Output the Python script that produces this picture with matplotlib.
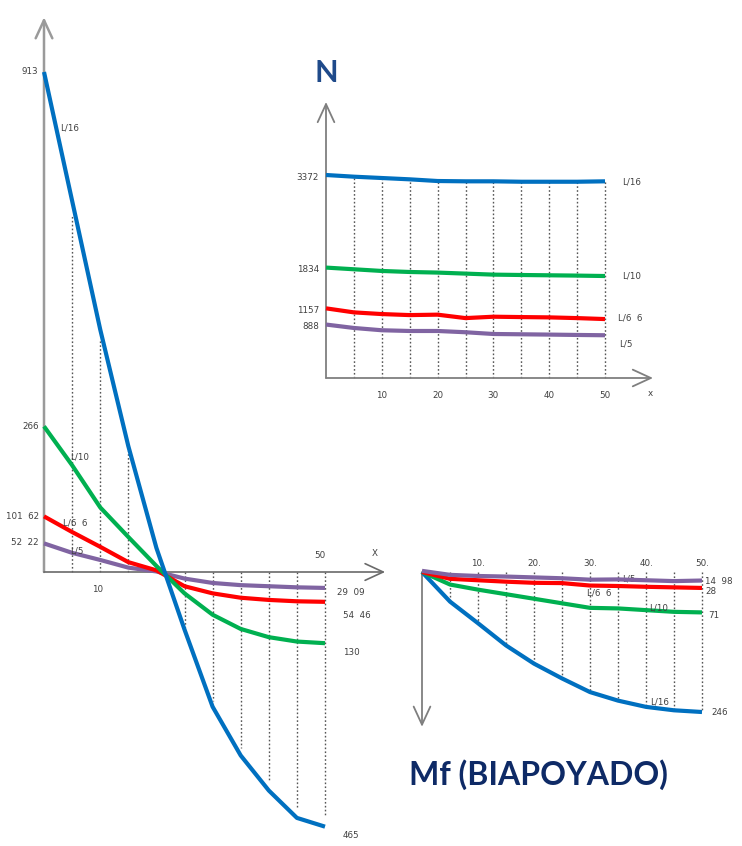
import matplotlib
matplotlib.use("Agg")
import matplotlib.pyplot as plt

W, H = 742, 846

# ---------------- data ----------------
x = [0, 5, 10, 15, 20, 25, 30, 35, 40, 45, 50]

# Left: Mf (cantilever-like) diagram
mf_L16 = [913, 678, 443, 230, 44, -105, -246, -335, -399, -449, -465]
mf_L10 = [266, 195, 118, 64, 11, -39, -78, -104, -119, -127, -130]
mf_L66 = [101.62, 73, 46, 18, 3, -26, -39, -47, -51, -53.5, -54.46]
mf_L5 = [52.22, 35, 22, 8, 1, -12, -20, -24, -26, -28, -29.09]

# Top right: N diagram
n_L16 = [3372, 3344, 3322, 3300, 3272, 3267, 3267, 3260, 3260, 3260, 3267]
n_L10 = [1834, 1806, 1778, 1761, 1751, 1734, 1717, 1711, 1706, 1701, 1694]
n_L66 = [1157, 1090, 1062, 1045, 1052, 995, 1018, 1012, 1007, 995, 979]
n_L5 = [888, 831, 793, 781, 781, 760, 731, 726, 721, 715, 710]

# Bottom right: Mf (biapoyado)
b_L16 = [0, 52, 90, 129, 161, 187, 211, 226, 237, 243, 246]
b_L10 = [0, 22, 31, 39, 47, 55, 63, 64, 67, 70, 71]
b_L66 = [0, 12, 14.5, 17, 19, 19.5, 23.8, 24.6, 26, 27, 28]
b_L5 = [-2, 5, 7, 8, 9.5, 11, 13.5, 13, 14.5, 16, 14.98]

n_ticks = [10, 20, 30, 40, 50]
b_ticks = [10, 20, 30, 40, 50]

BLUE, GREEN, RED, PURPLE = "#0070C0", "#00B050", "#FF0000", "#8064A2"
AX = "#7f7f7f"
TXT = "#404040"
DOT = "#555555"

fig = plt.figure(figsize=(W / 100, H / 100), dpi=100)
fig.patch.set_facecolor("white")


def place(ax, box, xmap, ymap):
    L, T, R, B = box
    px0, xv0, px1, xv1 = xmap
    sx = (px1 - px0) / (xv1 - xv0)
    ax.set_xlim(xv0 + (L - px0) / sx, xv0 + (R - px0) / sx)
    py0, yv0, py1, yv1 = ymap
    sy = (py1 - py0) / (yv1 - yv0)
    ax.set_ylim(yv0 + (B - py0) / sy, yv0 + (T - py0) / sy)
    ax.set_position([L / W, 1 - B / H, (R - L) / W, (B - T) / H])
    ax.axis("off")


def arrow(ax, start, tip, lw=1.3, color=AX):
    ax.annotate("", xy=tip, xytext=start,
                arrowprops=dict(arrowstyle="->,head_length=1.3,head_width=0.6",
                                lw=lw, color=color, shrinkA=0, shrinkB=0))


def lab(ax, s, xy, dx=0, dy=0, ha="left", va="center", size=6.3, color=TXT, z=5):
    ax.annotate(s, xy=xy, xytext=(dx, dy), textcoords="offset pixels",
                ha=ha, va=va, fontsize=size, color=color, zorder=z,
                family="DejaVu Sans")


# ================= LEFT =================
axL = fig.add_axes([0, 0, 1, 1])
place(axL, (0, 0, 420, 846), (44, 0, 325, 50), (572, 0, 72, 913))
arrow(axL, (0, 0), (0, 1013), lw=1.8, color="#9a9a9a")
arrow(axL, (0, 0), (60.7, 0), lw=1.2, color="#6a6a6a")
for xi, yi in zip(x, mf_L16):
    if xi in (5, 10, 15) or xi >= 25:
        axL.plot([xi, xi], [0, yi * 0.96], ls=(0, (1.2, 1.6)), lw=1.0, color=DOT, zorder=1)
for ys, c in ((mf_L5, PURPLE), (mf_L66, RED), (mf_L10, GREEN), (mf_L16, BLUE)):
    axL.plot(x, ys, color=c, lw=3.0, solid_capstyle="butt", solid_joinstyle="round", zorder=3)
lab(axL, "913", (0, 913), dx=-6, ha="right")
lab(axL, "266", (0, 266), dx=-5, ha="right")
lab(axL, "101  62", (0, 101.62), dx=-5, ha="right")
lab(axL, "52  22", (0, 52.22), dx=-5, ha="right", dy=1)
lab(axL, "L/16", (2.85, 810))
lab(axL, "L/10", (4.6, 210))
lab(axL, "L/6  6", (3.4, 89))
lab(axL, "L/5", (4.6, 38))
lab(axL, "10", (9.6, 0), dy=-18, ha="center")
lab(axL, "50", (49.1, 0), dy=16, ha="center")
lab(axL, "X", (58.9, 0), dy=19, ha="center")
lab(axL, "29  09", (50, -29.09), dx=12, dy=-5)
lab(axL, "54  46", (50, -54.46), dx=18, dy=-14)
lab(axL, "130", (50, -130), dx=18, dy=-9)
lab(axL, "465", (50, -465), dx=18, dy=-9)

# ================= TOP RIGHT (N) =================
axN = fig.add_axes([0, 0, 1, 1])
place(axN, (270, 40, 742, 420), (326, 0, 605, 50), (378, 0, 175, 3372))
arrow(axN, (0, 0), (0, 4585), lw=1.3)
arrow(axN, (0, 0), (58.6, 0), lw=1.3)
for xi, yi in zip(x[1:], n_L16[1:]):
    axN.plot([xi, xi], [0, yi], ls=(0, (1.2, 1.6)), lw=1.0, color=DOT, zorder=1)
for ys, c in ((n_L5, PURPLE), (n_L66, RED), (n_L10, GREEN), (n_L16, BLUE)):
    axN.plot(x, ys, color=c, lw=3.0, solid_capstyle="butt", solid_joinstyle="round", zorder=3)
for v in (n_L16[0], n_L10[0], n_L66[0], n_L5[0]):
    lab(axN, str(v), (0, v), dx=-7, ha="right", dy=-2)
lab(axN, "L/16", (50, n_L16[-1]), dx=17, dy=-1)
lab(axN, "L/10", (50, n_L10[-1]), dx=17, dy=0)
lab(axN, "L/6  6", (50, n_L66[-1]), dx=13, dy=1)
lab(axN, "L/5", (50, n_L5[-1]), dx=14, dy=-9)
for t in n_ticks:
    lab(axN, str(t), (t, 0), dy=-17, ha="center")
lab(axN, "x", (58.2, 0), dy=-15, ha="center")
axN.annotate("N", xy=(0, 4585), xytext=(0, 29), textcoords="offset pixels",
             ha="center", va="center", fontsize=22, fontweight="bold",
             color="#1F4A8A", family="Lato")

# ================= BOTTOM RIGHT (Mf biapoyado) =================
axB = fig.add_axes([0, 0, 1, 1])
place(axB, (390, 540, 742, 846), (422, 0, 702, 50), (572, 0, 712, 246))
arrow(axB, (0, 0), (0, 272), lw=1.3)
arrow(axB, (0, 0), (58.6, 0), lw=1.3)
for xi, yi in zip(x[1:], b_L16[1:]):
    axB.plot([xi, xi], [0, yi], ls=(0, (1.2, 1.6)), lw=1.0, color=DOT, zorder=1)
lab(axB, "L/5", (37, 11.5), ha="center", z=2)
for ys, c in ((b_L16, BLUE), (b_L10, GREEN), (b_L66, RED), (b_L5, PURPLE)):
    axB.plot(x, ys, color=c, lw=3.0, solid_capstyle="butt", solid_joinstyle="round", zorder=3)
for t in b_ticks:
    lab(axB, f"{t}.", (t, 0), dy=8, ha="center")
lab(axB, "14  98", (50, b_L5[-1]), dx=3, dy=-1)
lab(axB, "28", (50, b_L66[-1]), dx=3, dy=-4)
lab(axB, "71", (50, b_L10[-1]), dx=6, dy=-3)
lab(axB, "246", (50, b_L16[-1]), dx=9, dy=0)
lab(axB, "L/6  6", (29.4, 37), ha="left")
lab(axB, "L/10", (40.6, 64), ha="left")
lab(axB, "L/16", (40.8, 229), ha="left")
axB.annotate("Mf (BIAPOYADO)", xy=(0, 272), xytext=(-13, -48), textcoords="offset pixels",
             ha="left", va="center", fontsize=23, fontweight="bold",
             color="#0E2A66", family="Lato")

fig.savefig("out.png", dpi=100, facecolor="white")
